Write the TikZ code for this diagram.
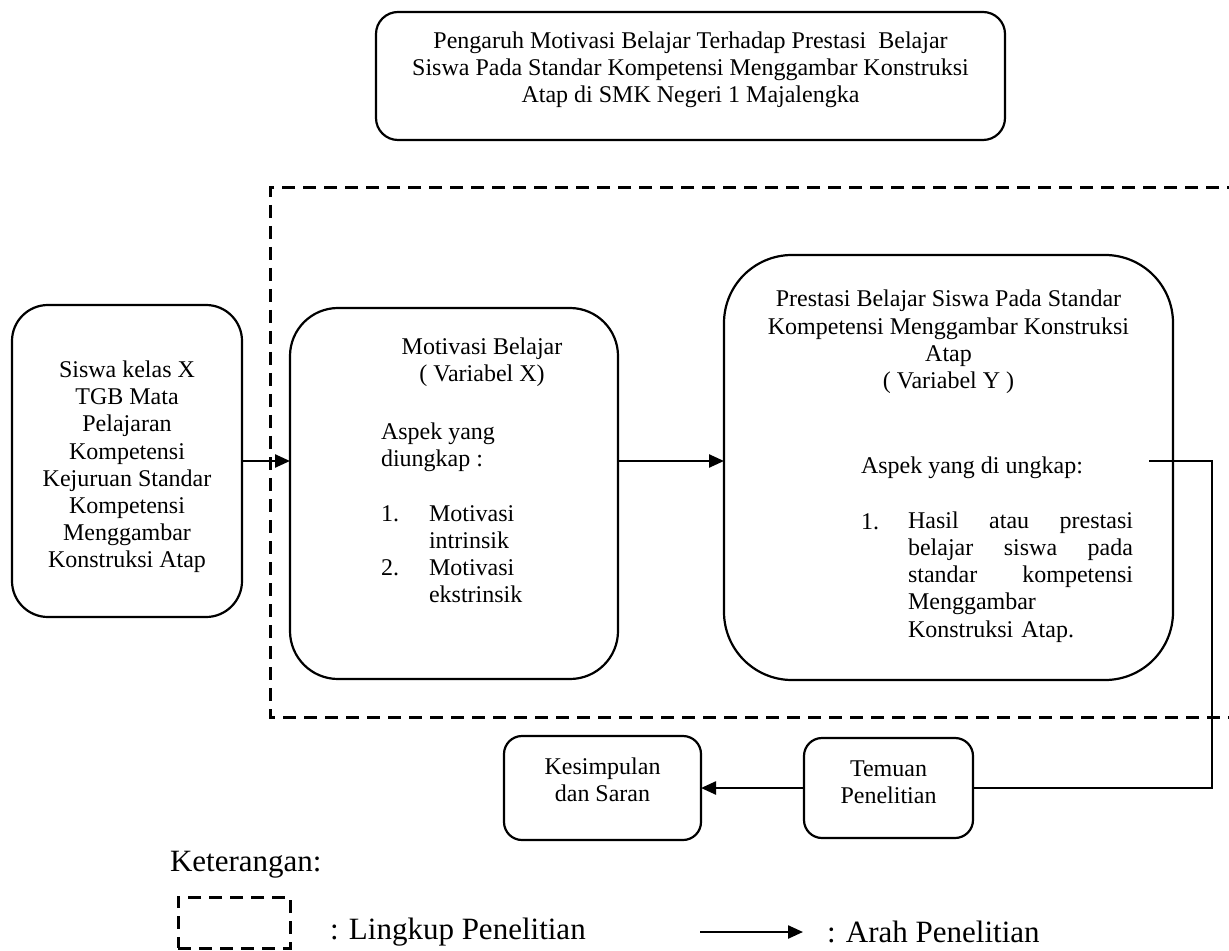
\documentclass[tikz,border=0pt]{standalone}
\usepackage{fontspec}
\setmainfont{Liberation Serif}
\usetikzlibrary{arrows.meta}
\begin{document}
\begin{tikzpicture}[x=0.5pt,y=-0.5pt,
  every node/.style={inner sep=0pt, outer sep=0pt},
  txt/.style={font=\fontsize{12pt}{13.6pt}\selectfont},
  box/.style={draw, line width=1.1pt, rounded corners=#1},
  box/.default=10pt,
  conn/.style={line width=1.2pt},
  arr/.style={line width=1.2pt, -{Triangle[length=7.5pt,width=6.5pt]}},
  dashbox/.style={draw, line width=1.5pt, dash pattern=on 6.5pt off 4pt},
  legend/.style={font=\fontsize{15.5pt}{18pt}\selectfont}]
\useasboundingbox (0,0) rectangle (1229,951);

% title
\node[box=11pt, minimum width=314.5pt, minimum height=64pt] (title) at (690.5,76) {};
\node[txt, align=center] (titleT) at (690.5,70) {Pengaruh Motivasi Belajar Terhadap Prestasi\ \ Belajar\\Siswa Pada Standar Kompetensi Menggambar Konstruksi\\Atap di SMK Negeri 1 Majalengka};

% research scope (dashed frame)
\draw[dashbox] (1240,188) -- (270,188) -- (270,717) -- (1240,717);

% left box
\node[box=18pt, minimum width=115pt, minimum height=156pt] (siswa) at (127,461) {};
\node[txt, align=center] (siswaT) at (127,467) {Siswa kelas X\\TGB Mata\\Pelajaran\\Kompetensi\\Kejuruan Standar\\Kompetensi\\Menggambar\\Konstruksi Atap};

% motivasi box
\node[box=24pt, minimum width=164pt, minimum height=185.5pt] (motiv) at (454,493.5) {};
\node[txt, align=center] (motivT) at (482,362) {Motivasi Belajar\\( Variabel X)};
\node[txt, align=left, anchor=west] (motivA) at (381,513) {Aspek yang\\diungkap :\\[13.6pt]\makebox[24pt][l]{1.}Motivasi\\\hspace*{24pt}intrinsik\\\makebox[24pt][l]{2.}Motivasi\\\hspace*{24pt}ekstrinsik};

% prestasi box
\node[box=34pt, minimum width=224.5pt, minimum height=212.5pt] (prest) at (948.5,467.5) {};
\node[txt, align=center] (prestT) at (948.5,342) {Prestasi Belajar Siswa Pada Standar\\Kompetensi Menggambar Konstruksi\\Atap\\( Variabel Y )};
\node[txt, anchor=west] (prestA) at (861,468) {Aspek yang di ungkap:};
\node[txt, anchor=west] (prestN) at (861,522) {1.};
\node[txt, align=left, text width=112.5pt, anchor=west] (prestL) at (908,577) {Hasil\hfill atau\hfill prestasi\\belajar\hfill siswa\hfill pada\\standar\hfill kompetensi\\Menggambar\\Konstruksi Atap.};

% bottom boxes
\node[box=9pt, minimum width=84.5pt, minimum height=50pt] (temuan) at (888.5,788) {};
\node[txt, align=center] (temuanT) at (888.5,782) {Temuan\\Penelitian};
\node[box=9pt, minimum width=98.5pt, minimum height=52pt] (kesim) at (602.5,788) {};
\node[txt, align=center] (kesimT) at (602.5,780) {Kesimpulan\\dan Saran};

% connectors
\draw[arr] (siswa.east) -- (siswa.east -| motiv.west);
\draw[arr] (siswa.east -| motiv.east) -- (siswa.east -| prest.west);
\coordinate (pout) at (1149,461);
\coordinate (turn) at (1212,461);
\draw[conn] (pout) -- (turn) |- (temuan.east);
\draw[arr] (temuan.west) -- (kesim.east);

% legend
\node[legend, anchor=west] (ket) at (170,865) {Keterangan:};
\node[dashbox, minimum width=56pt, minimum height=25.5pt] (legbox) at (234,922.5) {};
\node[legend, anchor=west] (leg1) at (330,932) {: Lingkup Penelitian};
\coordinate (la) at (700,932);
\coordinate (lb) at (803,932);
\draw[arr] (la) -- (lb);
\node[legend, anchor=west] (leg2) at (827,932) {: Arah Penelitian};
\end{tikzpicture}
\end{document}
